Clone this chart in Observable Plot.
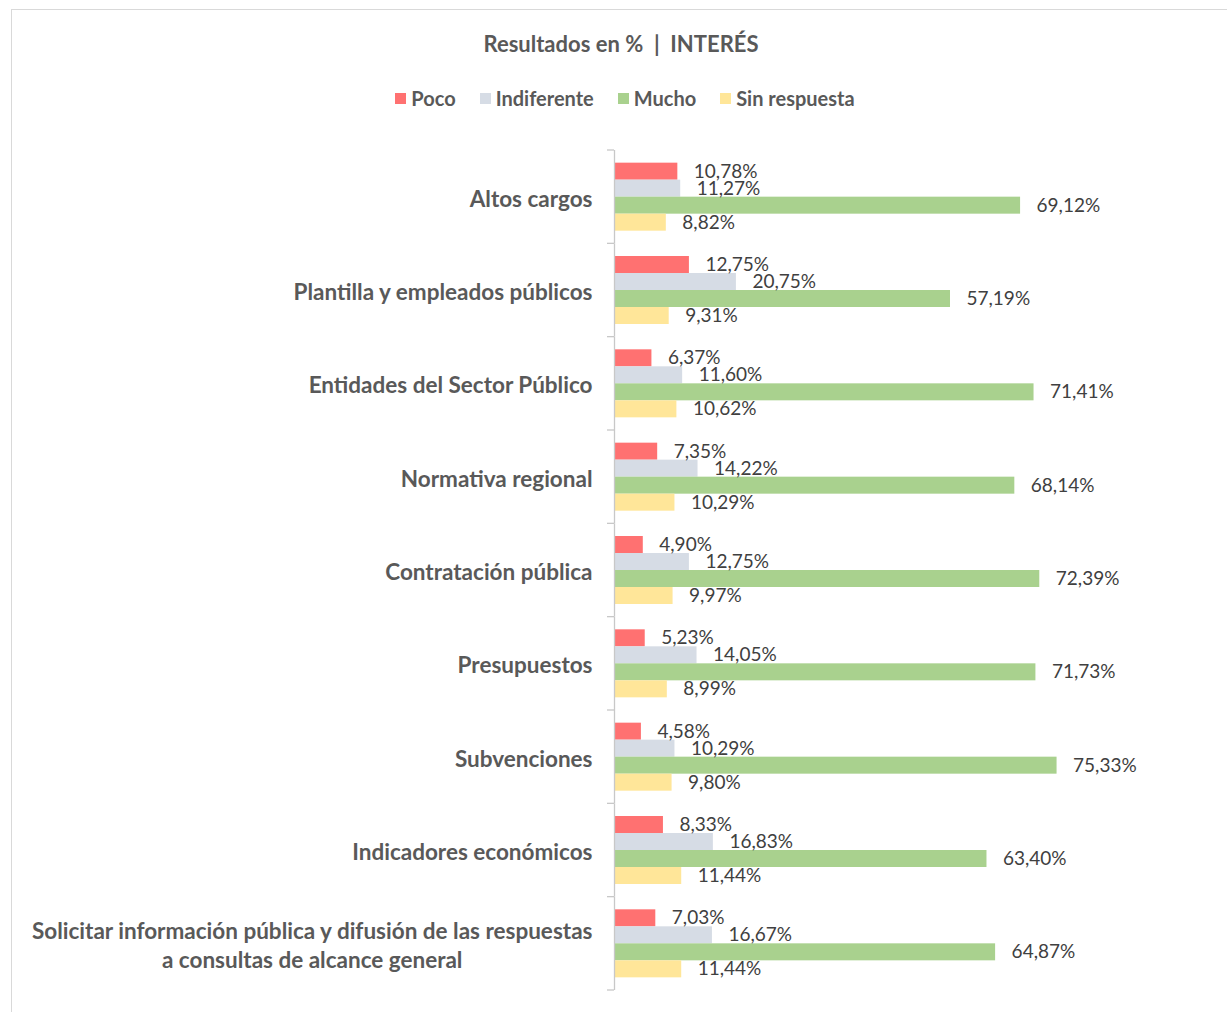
<!DOCTYPE html>
<html>
<head>
<meta charset="utf-8">
<script src="https://cdn.jsdelivr.net/npm/d3@7"></script>
<script src="https://cdn.jsdelivr.net/npm/@observablehq/plot@0.6"></script>
<style>
  body { margin: 0; background: #fff; font-family: Lato, sans-serif; }
  #wrap { position: relative; width: 1227px; height: 1012px; overflow: hidden; }
  #border { position: absolute; left: 11px; top: 9px; width: 1240px; height: 1020px; border: 1px solid #d9d9d9; box-sizing: border-box; }
  #header { position: relative; height: 130px; }
  #title { position: absolute; top: 30px; left: 12px; width: 1218px; text-align: center; font-weight: bold; font-size: 22px; color: #595959; white-space: pre; }
  #legend { position: absolute; top: 85px; left: 12px; width: 1226px; }
  #legend .lg-swatches { justify-content: center; font-family: Lato, sans-serif; font-size: 20px; font-weight: bold; color: #595959; margin: 0; min-height: 26px; }
  #legend .lg-swatch { margin-right: 24px; }
  #legend .lg-swatch:last-child { margin-right: 0; }
  #legend .lg-swatch > svg { margin-right: 5px; }
  #chart { position: relative; line-height: 0; }
  #chart svg { display: block; }
</style>
</head>
<body>
<div id="wrap">
  <div id="border"></div>
  <div id="header">
    <div id="title">Resultados en %  |  INTERÉS</div>
    <div id="legend"></div>
  </div>
  <div id="chart"></div>
</div>
<script>
const categories = [
  "Altos cargos",
  "Plantilla y empleados públicos",
  "Entidades del Sector Público",
  "Normativa regional",
  "Contratación pública",
  "Presupuestos",
  "Subvenciones",
  "Indicadores económicos",
  "Solicitar información pública y difusión de las respuestas\na consultas de alcance general"
];
const series = ["Poco", "Indiferente", "Mucho", "Sin respuesta"];
const colors = ["#FF7171", "#D6DCE5", "#A9D18E", "#FFE699"];

const poco         = [10.78, 12.75,  6.37,  7.35,  4.90,  5.23,  4.58,  8.33,  7.03];
const indiferente  = [11.27, 20.75, 11.60, 14.22, 12.75, 14.05, 10.29, 16.83, 16.67];
const mucho        = [69.12, 57.19, 71.41, 68.14, 72.39, 71.73, 75.33, 63.40, 64.87];
const sinRespuesta = [ 8.82,  9.31, 10.62, 10.29,  9.97,  8.99,  9.80, 11.44, 11.44];

const valuesBySeries = [poco, indiferente, mucho, sinRespuesta];
const data = categories.flatMap((c, i) =>
  series.map((s, j) => ({category: c, series: s, value: valuesBySeries[j][i]}))
);
const fmt = v => v.toFixed(2).replace(".", ",") + "%";

document.getElementById("legend").appendChild(
  Plot.legend({color: {domain: series, range: colors}, legend: "swatches", swatchSize: 11, className: "lg"})
);

const plot = Plot.plot({
  width: 1227,
  height: 882,
  marginTop: 20,
  marginBottom: 22,
  marginLeft: 614,
  marginRight: 143,
  style: {fontFamily: "Lato, sans-serif", color: "#595959", background: "transparent", overflow: "visible"},
  x: {domain: [0, 80], axis: null},
  y: {domain: series, paddingInner: 0, paddingOuter: 0.745, round: false, axis: null},
  fy: {domain: categories, padding: 0, round: false, label: null},
  color: {domain: series, range: colors},
  marks: [
    Plot.barX(data, {fy: "category", y: "series", x: "value", fill: "series"}),
    Plot.text(data, {fy: "category", y: "series", x: "value", text: d => fmt(d.value),
      textAnchor: "start", dx: 16, fontSize: 19, fill: "#404040"}),
    Plot.ruleX([0], {stroke: "#c8c8c8", strokeWidth: 1.3}),
    Plot.axisFy({anchor: "left", label: null, tickSize: 0, tickPadding: 22,
      fontSize: 22.5, fontWeight: "bold", lineHeight: 1.3, fill: "#595959"})
  ]
});
document.getElementById("chart").appendChild(plot);

// category boundary ticks on the axis line
const fyS = plot.scale("fy");
const xS = plot.scale("x");
const x0 = xS.apply(0);
const bounds = categories.map(c => fyS.apply(c)).concat([fyS.apply(categories[categories.length - 1]) + fyS.bandwidth]);
d3.select(plot).append("g")
  .attr("stroke", "#c8c8c8").attr("stroke-width", 1.3)
  .selectAll("line").data(bounds).join("line")
  .attr("x1", x0 - 7).attr("x2", x0)
  .attr("y1", d => d).attr("y2", d => d);

// center multi-line category labels
d3.select(plot).selectAll("text").each(function() {
  const ts = this.querySelectorAll("tspan");
  if (ts.length > 1) {
    const w = this.getBBox().width;
    this.setAttribute("text-anchor", "middle");
    ts.forEach(t => t.setAttribute("x", -w / 2));
  }
});
</script>
</body>
</html>
